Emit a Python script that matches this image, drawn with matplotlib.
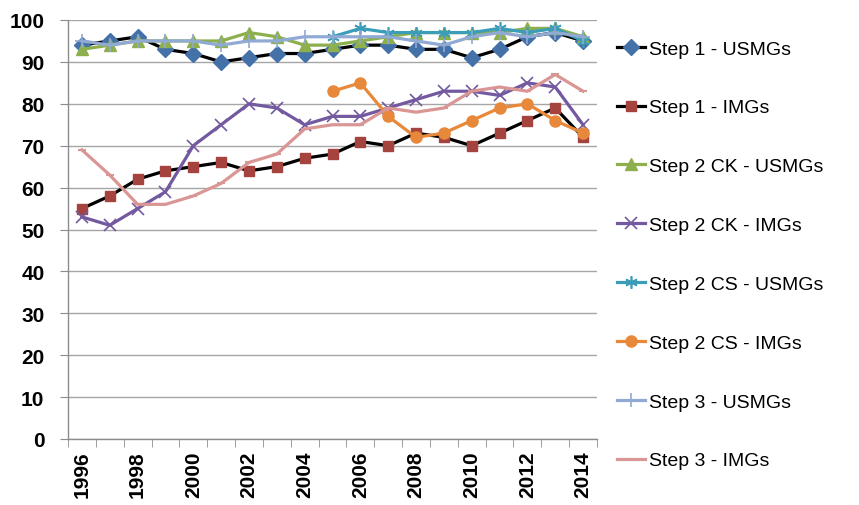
import numpy as np
import matplotlib
matplotlib.use("Agg")
import matplotlib.pyplot as plt

plt.rcParams['font.family'] = ['Liberation Sans', 'DejaVu Sans']

years = list(range(1996, 2015))
NA = np.nan

step1_usmg = [94, 95, 96, 93, 92, 90, 91, 92, 92, 93, 94, 94, 93, 93, 91, 93, 96, 97, 95]
step1_img = [55, 58, 62, 64, 65, 66, 64, 65, 67, 68, 71, 70, 73, 72, 70, 73, 76, 79, 72]
step2ck_usmg = [93, 94, 95, 95, 95, 95, 97, 96, 94, 94, 95, 96, 97, 97, 97, 97, 98, 98, 96]
step2ck_img = [53, 51, 55, 59, 70, 75, 80, 79, 75, 77, 77, 79, 81, 83, 83, 82, 85, 84, 75]
step2cs_usmg = [NA] * 9 + [96, 98, 97, 97, 97, 97, 98, 97, 98, 95]
step2cs_img = [NA] * 9 + [83, 85, 77, 72, 73, 76, 79, 80, 76, 73]
step3_usmg = [95, 94, 95, 95, 95, 94, 95, 95, 96, 96, 96, 96, 95, 94, 96, 97, 96, 97, 96]
step3_img = [69, 63, 56, 56, 58, 61, 66, 68, 74, 75, 75, 79, 78, 79, 83, 84, 83, 87, 83]

series = [
    ("Step 1 - USMGs", step1_usmg, dict(color="black", marker="D", mfc="#4472A8", mec="#4472A8", ms=8)),
    ("Step 1 - IMGs", step1_img, dict(color="black", marker="s", mfc="#A5433F", mec="#A5433F", ms=7.5)),
    ("Step 2 CK - USMGs", step2ck_usmg, dict(color="#8DAF4E", marker="^", mfc="#8DAF4E", mec="#8DAF4E", ms=8)),
    ("Step 2 CK - IMGs", step2ck_img, dict(color="#7359A0", marker="x", mfc="#7359A0", mec="#7359A0", ms=8, mew=1.2)),
    ("Step 2 CS - USMGs", step2cs_usmg, dict(color="#3C9DB8", marker=(6, 2, 0), mfc="#3C9DB8", mec="#3C9DB8", ms=9, mew=1.2)),
    ("Step 2 CS - IMGs", step2cs_img, dict(color="#E8883A", marker="o", mfc="#E8883A", mec="#E8883A", ms=8)),
    ("Step 3 - USMGs", step3_usmg, dict(color="#90AAD4", marker="+", mfc="#90AAD4", mec="#90AAD4", ms=10, mew=1.2)),
    ("Step 3 - IMGs", step3_img, dict(color="#D99694", marker="_", mfc="#D99694", mec="#D99694", ms=6, mew=1.5)),
]

fig = plt.figure(figsize=(8.59, 5.06), dpi=100)
ax = fig.add_axes([68 / 859, 1 - 440 / 506, (597 - 68) / 859, (440 - 21) / 506])

x = np.arange(len(years))
handles = []
for label, vals, style in series:
    h, = ax.plot(x, vals, lw=2.3, label=label, **style)
    handles.append(h)

ax.set_xlim(-0.5, len(years) - 0.5)
ax.set_ylim(0, 100)
ax.set_yticks(range(0, 101, 10))
ax.yaxis.grid(True, color="#A6A6A6", lw=1)
ax.set_axisbelow(True)

for s in ("top", "right"):
    ax.spines[s].set_visible(False)
for s in ("left", "bottom"):
    ax.spines[s].set_color("#8C8C8C")
    ax.spines[s].set_linewidth(1)

ax.set_xticks(x[::2])
ax.set_xticklabels([str(y) for y in years[::2]], rotation=90, fontsize=15, fontweight="bold")
ax.set_xticks(np.arange(-0.5, len(years)), minor=True)
ax.tick_params(axis="x", which="major", length=0, pad=8)
ax.tick_params(axis="x", which="minor", length=6, color="#8C8C8C", direction="out")
ax.tick_params(axis="y", length=6, color="#8C8C8C", labelsize=15, pad=11)
for t in ax.get_yticklabels():
    t.set_fontweight("bold")

fig.legend(handles=handles, loc="upper left", bbox_to_anchor=(617 / 859, 1 - 41 / 506),
           frameon=False, fontsize=14, labelspacing=2.12, handlelength=1.45,
           handletextpad=0.2, borderpad=0, borderaxespad=0)

fig.savefig("out.png", dpi=100)
